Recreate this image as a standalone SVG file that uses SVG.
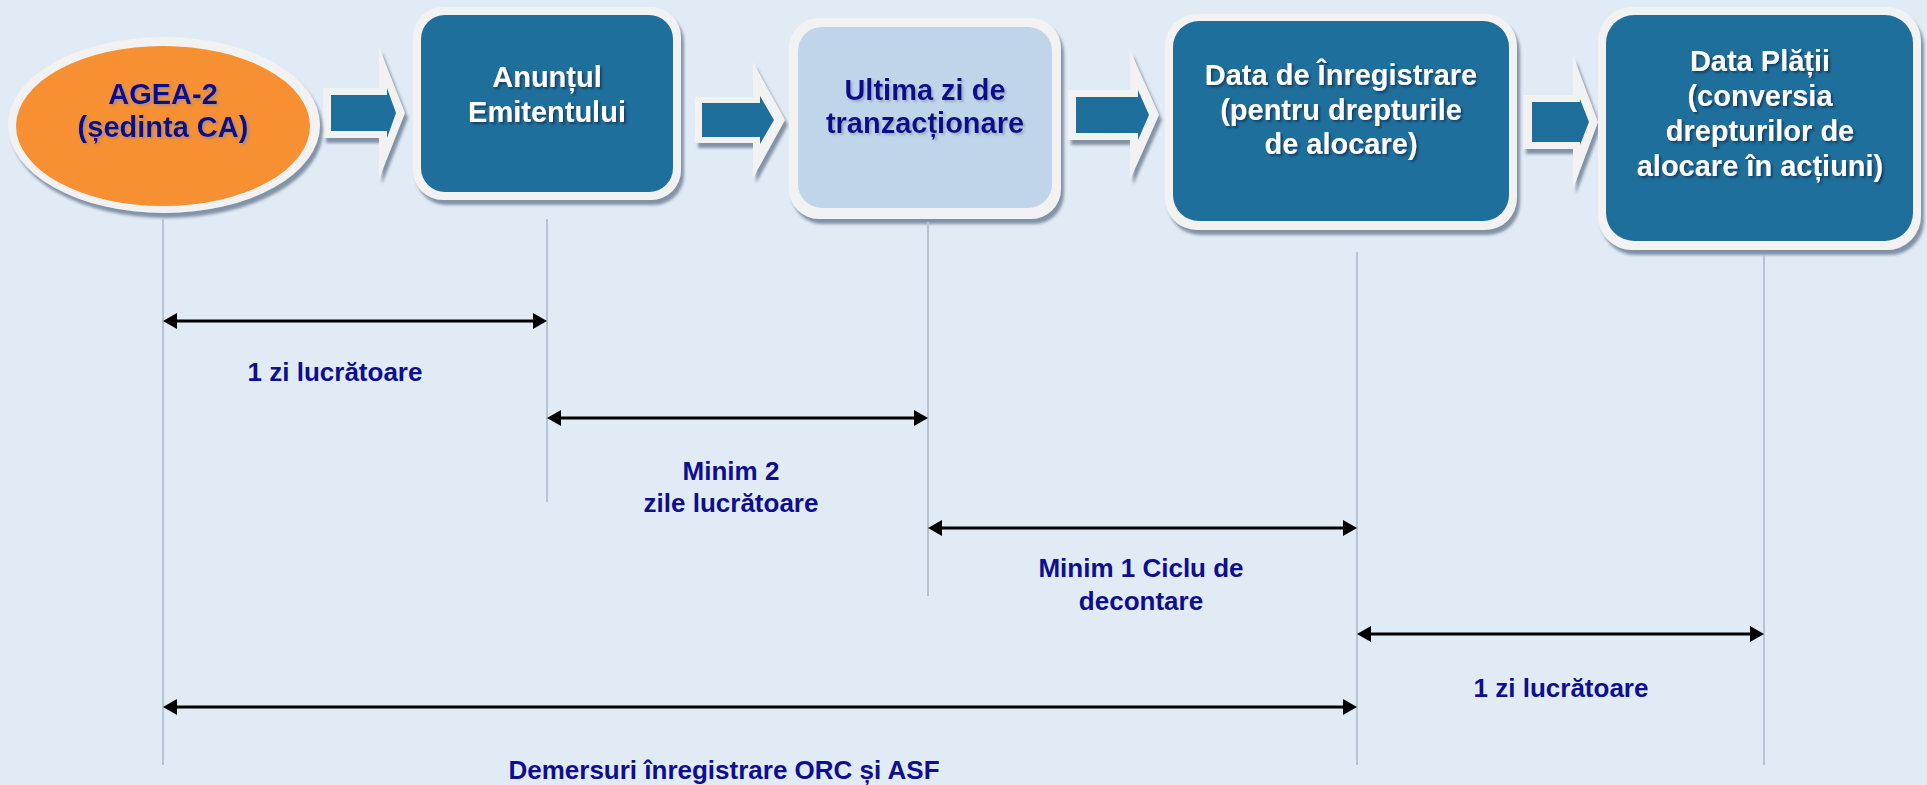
<svg xmlns="http://www.w3.org/2000/svg" width="1927" height="785" viewBox="0 0 1927 785">
<defs>
<filter id="sh" x="-10%" y="-10%" width="130%" height="130%"><feDropShadow dx="3" dy="5" stdDeviation="1.5" flood-color="#7D8DA3" flood-opacity="0.95"/></filter>
<filter id="tsw" x="-5%" y="-20%" width="115%" height="150%"><feDropShadow dx="2" dy="2" stdDeviation="0.8" flood-color="#0B3150" flood-opacity="0.75"/></filter>
<filter id="tsn" x="-5%" y="-20%" width="115%" height="150%"><feDropShadow dx="2" dy="2" stdDeviation="0.8" flood-color="#7C8AA5" flood-opacity="0.55"/></filter>
<marker id="ah" viewBox="0 0 14 16" refX="10" refY="8" markerWidth="14" markerHeight="16" markerUnits="userSpaceOnUse" orient="auto-start-reverse"><path d="M0,0 L14,8 L0,16 z" fill="#000"/></marker>
</defs>
<style>
.ring{fill:#F2F2F2}
.blue{fill:#1F6F9D}
.bt{font-family:"Liberation Sans",Arial,sans-serif;font-weight:bold;font-size:29px;text-anchor:middle}
.w{fill:#fff;filter:url(#tsw)}
.n{fill:#0F0F8C;filter:url(#tsn)}
.lbl{font-family:"Liberation Sans",Arial,sans-serif;font-weight:bold;font-size:26px;fill:#0E0E8E;text-anchor:middle}
.vl{stroke:#B5C3D3;stroke-width:2}
.dl{stroke:#000;stroke-width:3;marker-start:url(#ah);marker-end:url(#ah)}
</style>
<rect width="1927" height="785" fill="#E1EBF5"/>

<g id="flow-arrows">
<g id="arrow1"><polygon class="ring" filter="url(#sh)" points="323,88 379,88 379,47 405,113 379,179 379,138 323,138"/><polygon class="blue" points="331,95 387,95 387,88 396,113 387,138 387,131 331,131"/></g>
<g id="arrow2"><polygon class="ring" filter="url(#sh)" points="695,97 753,97 753,62 785,120 753,178 753,143 695,143"/><polygon class="blue" points="702,103 760,103 760,96 774,120 760,144 760,137 702,137"/></g>
<g id="arrow3"><polygon class="ring" filter="url(#sh)" points="1068,90 1130,90 1130,50 1159,115 1130,180 1130,140 1068,140"/><polygon class="blue" points="1076,97 1138,97 1138,90 1149,115 1138,140 1138,133 1076,133"/></g>
<g id="arrow4"><polygon class="ring" filter="url(#sh)" points="1523,95 1573,95 1573,55 1598,122 1573,189 1573,149 1523,149"/><polygon class="blue" points="1532,102 1580,102 1580,99 1589,122 1580,145 1580,142 1532,142"/></g>
</g>

<g id="node-agea">
<ellipse cx="164" cy="125" rx="156" ry="88" class="ring" filter="url(#sh)"/>
<ellipse cx="163" cy="126" rx="147" ry="80" fill="#F78F33"/>
<text class="bt n" x="163" y="104">AGEA-2</text>
<text class="bt n" x="163" y="137">(ședinta CA)</text>
</g>

<g id="node-anunt">
<rect x="413" y="7" width="268" height="193" rx="30" class="ring" filter="url(#sh)"/>
<rect x="421" y="15" width="252" height="177" rx="24" class="blue"/>
<text class="bt w" x="547" y="87">Anunțul</text>
<text class="bt w" x="547" y="122">Emitentului</text>
</g>

<g id="node-ultima">
<rect x="789" y="18" width="272" height="201" rx="30" class="ring" filter="url(#sh)"/>
<rect x="798" y="27" width="254" height="181" rx="24" fill="#C0D5EA"/>
<text class="bt n" x="925" y="100">Ultima zi de</text>
<text class="bt n" x="925" y="133">tranzacționare</text>
</g>

<g id="node-inregistrare">
<rect x="1165" y="14" width="352" height="216" rx="32" class="ring" filter="url(#sh)"/>
<rect x="1173" y="21" width="336" height="200" rx="26" class="blue"/>
<text class="bt w" x="1341" y="85">Data de Înregistrare</text>
<text class="bt w" x="1341" y="120">(pentru drepturile</text>
<text class="bt w" x="1341" y="154">de alocare)</text>
</g>

<g id="node-plata">
<rect x="1598" y="7" width="323" height="243" rx="34" class="ring" filter="url(#sh)"/>
<rect x="1606" y="15" width="307" height="226" rx="28" class="blue"/>
<text class="bt w" x="1760" y="71">Data Plății</text>
<text class="bt w" x="1760" y="106">(conversia</text>
<text class="bt w" x="1760" y="141">drepturilor de</text>
<text class="bt w" x="1760" y="176">alocare în acțiuni)</text>
</g>

<g id="connectors">
<line class="vl" x1="163" y1="219" x2="163" y2="765"/>
<line class="vl" x1="547" y1="219" x2="547" y2="502"/>
<line class="vl" x1="928" y1="222" x2="928" y2="596"/>
<line class="vl" x1="1357" y1="252" x2="1357" y2="765"/>
<line class="vl" x1="1764" y1="255" x2="1764" y2="765"/>
<line class="dl" x1="167" y1="321" x2="543" y2="321"/>
<line class="dl" x1="551" y1="418" x2="924" y2="418"/>
<line class="dl" x1="932" y1="528" x2="1353" y2="528"/>
<line class="dl" x1="1361" y1="634" x2="1760" y2="634"/>
<line class="dl" x1="167" y1="707" x2="1353" y2="707"/>
</g>

<g id="labels">
<text class="lbl" x="335" y="381">1 zi lucrătoare</text>
<text class="lbl" x="731" y="480">Minim 2</text>
<text class="lbl" x="731" y="512">zile lucrătoare</text>
<text class="lbl" x="1141" y="577">Minim 1 Ciclu de</text>
<text class="lbl" x="1141" y="610">decontare</text>
<text class="lbl" x="1561" y="697">1 zi lucrătoare</text>
<text class="lbl" x="724" y="779">Demersuri înregistrare ORC și ASF</text>
</g>
</svg>
